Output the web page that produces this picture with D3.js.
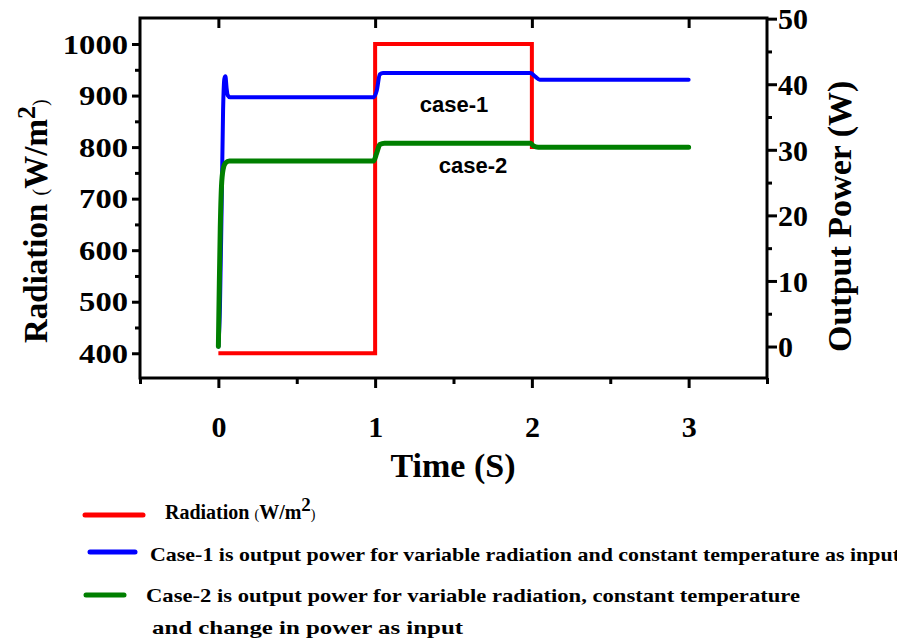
<!DOCTYPE html>
<html lang="en">
<head>
<meta charset="utf-8">
<title>radiation and output power</title>
<script src="https://cdnjs.cloudflare.com/ajax/libs/d3/7.8.5/d3.min.js"></script>
<style>
  body { margin: 0; background: #fff; }
  .axis path { display: none; }
  .axis line { stroke: #000; stroke-width: 3; }
  .axis text { font-family: "Liberation Serif", "Times New Roman", serif; font-weight: bold; fill: #000; }
  .serif { font-family: "Liberation Serif", "Times New Roman", serif; font-weight: bold; fill: #000; }
  .sans { font-family: "Liberation Sans", Arial, sans-serif; font-weight: bold; fill: #000; }
</style>
</head>
<body>
<script>
// radiation input (W/m2) - step profile
var radTime = [0, 1, 1, 2, 2, 3];
var radValue = [400, 400, 1000, 1000, 800, 800];

// case-1 output power (W)
var case1Time = [0, 0.01, 0.02, 0.03, 0.038, 0.045, 0.052, 0.06, 0.075, 0.99, 1.01, 1.03, 1.05, 1.99, 2.02, 2.05, 3];
var case1Power = [0, 6, 20, 36, 40.8, 41.2, 39.5, 38.3, 38, 38, 39, 41.5, 41.7, 41.7, 41.2, 40.7, 40.7];

// case-2 output power (W)
var case2Time = [0, 0.005, 0.012, 0.02, 0.03, 0.045, 0.07, 0.99, 1.01, 1.03, 1.06, 1.99, 2.01, 2.04, 3];
var case2Power = [0, 8, 18, 24.5, 27, 28, 28.3, 28.3, 29.5, 30.8, 31, 31, 30.6, 30.4, 30.4];

var xTicks = [0, 1, 2, 3];
var xMinor = [-0.5, 0.5, 1.5, 2.5, 3.5];
var leftTicks = [400, 500, 600, 700, 800, 900, 1000];
var leftMinor = [450, 550, 650, 750, 850, 950];
var rightTicks = [0, 10, 20, 30, 40, 50];
var rightMinor = [5, 15, 25, 35, 45];

var W = 897, H = 642;
var plot = {left: 140, right: 767, top: 18, bottom: 378};

var svg = d3.select("body").append("svg")
    .attr("width", W)
    .attr("height", H);

var x = d3.scaleLinear().domain([-0.5, 3.5]).range([plot.left, plot.right]);
var yL = d3.scaleLinear().domain([352, 1050.5]).range([plot.bottom, plot.top]);
var yR = d3.scaleLinear().domain([-4.8, 50.1]).range([plot.bottom, plot.top]);

// lines
var radLine = d3.line().x(function(d){ return x(d[0]); }).y(function(d){ return yL(d[1]); });
var powLine = d3.line().x(function(d){ return x(d[0]); }).y(function(d){ return yR(d[1]); }).curve(d3.curveMonotoneX);

svg.append("path")
    .datum(d3.zip(radTime, radValue))
    .attr("d", radLine)
    .attr("fill", "none")
    .attr("stroke", "#ff0000")
    .attr("stroke-width", 4);

svg.append("path")
    .datum(d3.zip(case1Time, case1Power))
    .attr("d", powLine)
    .attr("fill", "none")
    .attr("stroke", "#0000ff")
    .attr("stroke-width", 4)
    .attr("stroke-linecap", "round");

svg.append("path")
    .datum(d3.zip(case2Time, case2Power))
    .attr("d", powLine)
    .attr("fill", "none")
    .attr("stroke", "#007f00")
    .attr("stroke-width", 5)
    .attr("stroke-linecap", "round");

// frame
svg.append("rect")
    .attr("x", plot.left).attr("y", plot.top)
    .attr("width", plot.right - plot.left).attr("height", plot.bottom - plot.top)
    .attr("fill", "none").attr("stroke", "#000").attr("stroke-width", 3);

// bottom axis
var xAxis = svg.append("g").attr("class", "axis")
    .attr("transform", "translate(0," + plot.bottom + ")")
    .call(d3.axisBottom(x).tickValues(xTicks).tickSize(10).tickSizeOuter(0).tickFormat(d3.format("d")));
xAxis.selectAll("text").attr("y", 59).attr("dy", 0).style("font-size", "30px");
svg.append("g").attr("class", "axis")
    .attr("transform", "translate(0," + plot.bottom + ")")
    .call(d3.axisBottom(x).tickValues(xMinor).tickSize(6).tickSizeOuter(0).tickFormat(""));

// top axis, ticks pointing in
svg.append("g").attr("class", "axis")
    .attr("transform", "translate(0," + plot.top + ")")
    .call(d3.axisBottom(x).tickValues(xTicks).tickSize(10).tickSizeOuter(0).tickFormat(""));

// left axis
var lAxis = svg.append("g").attr("class", "axis")
    .attr("transform", "translate(" + plot.left + ",0)")
    .call(d3.axisLeft(yL).tickValues(leftTicks).tickSize(8).tickSizeOuter(0).tickFormat(d3.format("d")));
lAxis.selectAll("text")
    .attr("x", -12).attr("dy", "0.34em")
    .style("font-size", "27px")
    .attr("textLength", function(){ return this.textContent.length * 16.3; })
    .attr("lengthAdjust", "spacingAndGlyphs");
svg.append("g").attr("class", "axis")
    .attr("transform", "translate(" + plot.left + ",0)")
    .call(d3.axisLeft(yL).tickValues(leftMinor).tickSize(5).tickSizeOuter(0).tickFormat(""));

// right axis
var rAxis = svg.append("g").attr("class", "axis")
    .attr("transform", "translate(" + plot.right + ",0)")
    .call(d3.axisRight(yR).tickValues(rightTicks).tickSize(10).tickSizeOuter(0).tickFormat(d3.format("d")));
rAxis.selectAll("text").attr("x", 11).attr("dy", "0.34em").style("font-size", "30px");
svg.append("g").attr("class", "axis")
    .attr("transform", "translate(" + plot.right + ",0)")
    .call(d3.axisRight(yR).tickValues(rightMinor).tickSize(5).tickSizeOuter(0).tickFormat(""));

// axis titles
svg.append("text").attr("class", "serif")
    .attr("x", 453).attr("y", 477)
    .attr("text-anchor", "middle")
    .style("font-size", "34px")
    .text("Time (S)");

var lt = svg.append("text").attr("class", "serif")
    .attr("transform", "translate(47,343) rotate(-90)")
    .style("font-size", "33px");
lt.append("tspan").text("Radiation ");
lt.append("tspan").style("font-weight", "normal").style("font-size", "20px").text("(");
lt.append("tspan").text("W/m");
lt.append("tspan").attr("dy", -12).style("font-size", "26px").text("2");
lt.append("tspan").attr("dy", 12).style("font-weight", "normal").style("font-size", "20px").text(")");

svg.append("text").attr("class", "serif")
    .attr("transform", "translate(851,352) rotate(-90)")
    .style("font-size", "34px")
    .text("Output Power (W)");

// in-plot labels
svg.append("text").attr("class", "sans")
    .attr("x", 454).attr("y", 112).attr("text-anchor", "middle")
    .style("font-size", "22px").text("case-1");
svg.append("text").attr("class", "sans")
    .attr("x", 473).attr("y", 173).attr("text-anchor", "middle")
    .style("font-size", "22px").text("case-2");

// legend
var legendColors = ["#ff0000", "#0000ff", "#007f00"];
var legendLines = [[85, 143, 515], [90, 135, 552], [86, 124, 595]];
svg.selectAll(".legline")
    .data(legendLines)
    .enter().append("line")
    .attr("class", "legline")
    .attr("x1", function(d){ return d[0]; })
    .attr("x2", function(d){ return d[1]; })
    .attr("y1", function(d){ return d[2]; })
    .attr("y2", function(d){ return d[2]; })
    .attr("stroke", function(d, i){ return legendColors[i]; })
    .attr("stroke-width", 5)
    .attr("stroke-linecap", "round");

var r = svg.append("text").attr("class", "serif")
    .attr("x", 165).attr("y", 519)
    .style("font-size", "20px");
r.append("tspan").text("Radiation ");
r.append("tspan").style("font-weight", "normal").style("font-size", "14px").text("(");
r.append("tspan").text("W/m");
r.append("tspan").attr("dy", -8).style("font-size", "19px").text("2");
r.append("tspan").attr("dy", 8).style("font-weight", "normal").style("font-size", "14px").text(")");

svg.append("text").attr("class", "serif")
    .attr("x", 150).attr("y", 561)
    .style("font-size", "19px")
    .attr("textLength", 750).attr("lengthAdjust", "spacingAndGlyphs")
    .text("Case-1 is output power for variable radiation and constant temperature as input");

svg.append("text").attr("class", "serif")
    .attr("x", 146).attr("y", 602)
    .style("font-size", "19px")
    .attr("textLength", 654).attr("lengthAdjust", "spacingAndGlyphs")
    .text("Case-2 is output power for variable radiation, constant temperature");

svg.append("text").attr("class", "serif")
    .attr("x", 152).attr("y", 634)
    .style("font-size", "19px")
    .attr("textLength", 311).attr("lengthAdjust", "spacingAndGlyphs")
    .text("and change in power as input");
</script>
</body>
</html>
